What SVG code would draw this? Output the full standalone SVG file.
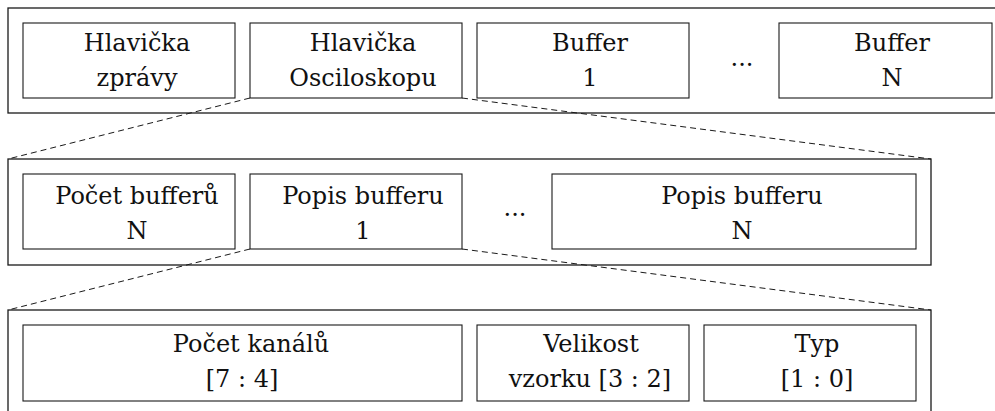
<svg xmlns="http://www.w3.org/2000/svg" width="995" height="411" viewBox="0 0 995 411">
  <style>
    .frame { fill: none; stroke: #1a1a1a; stroke-width: 1.3; }
    .box { fill: #ffffff; stroke: #1a1a1a; stroke-width: 1.1; }
    .lbl { fill: #111111; text-anchor: middle; }
    .zoom { fill: none; stroke: #1a1a1a; stroke-width: 1; stroke-dasharray: 6 4; }
  </style>
  <rect width="995" height="411" fill="#ffffff"/>

  <!-- zoom-out guides between levels -->
  <g id="connectors">
    <line class="zoom" x1="250" y1="98" x2="8" y2="159"/>
    <line class="zoom" x1="462" y1="98" x2="931" y2="159"/>
    <line class="zoom" x1="250" y1="249" x2="8" y2="310"/>
    <line class="zoom" x1="462" y1="249" x2="931" y2="310"/>
  </g>

  <g font-family="'DejaVu Serif', serif" font-size="24">
    <!-- level 1: message -->
    <g id="message">
      <rect class="frame" x="8" y="8" width="1010" height="105"/>
    </g>
    <g id="msg-header">
      <rect class="box" x="23" y="23" width="212" height="75"/>
      <text class="lbl" x="137" y="51">Hlavička</text>
      <text class="lbl" x="137" y="86">zprávy</text>
    </g>
    <g id="scope-header">
      <rect class="box" x="250" y="23" width="212" height="75"/>
      <text class="lbl" x="363" y="51">Hlavička</text>
      <text class="lbl" x="363" y="86">Osciloskopu</text>
    </g>
    <g id="buffer-1">
      <rect class="box" x="477" y="23" width="212" height="75"/>
      <text class="lbl" x="590" y="51">Buffer</text>
      <text class="lbl" x="590" y="86">1</text>
    </g>
    <g id="dots-1">
      <text class="lbl" x="742" y="66">...</text>
    </g>
    <g id="buffer-n">
      <rect class="box" x="779" y="23" width="213" height="75"/>
      <text class="lbl" x="892" y="51">Buffer</text>
      <text class="lbl" x="892" y="86">N</text>
    </g>

    <!-- level 2: oscilloscope header -->
    <g id="scope">
      <rect class="frame" x="8" y="159" width="923" height="106"/>
    </g>
    <g id="buffer-count">
      <rect class="box" x="23" y="174" width="212" height="75"/>
      <text class="lbl" x="137" y="204">Počet bufferů</text>
      <text class="lbl" x="137" y="239">N</text>
    </g>
    <g id="desc-1">
      <rect class="box" x="250" y="174" width="212" height="75"/>
      <text class="lbl" x="363" y="204">Popis bufferu</text>
      <text class="lbl" x="363" y="239">1</text>
    </g>
    <g id="dots-2">
      <text class="lbl" x="515" y="216">...</text>
    </g>
    <g id="desc-n">
      <rect class="box" x="552" y="174" width="364" height="75"/>
      <text class="lbl" x="742" y="204">Popis bufferu</text>
      <text class="lbl" x="742" y="239">N</text>
    </g>

    <!-- level 3: buffer description byte -->
    <g id="descriptor">
      <rect class="frame" x="8" y="310" width="923" height="120"/>
    </g>
    <g id="channels">
      <rect class="box" x="23" y="325" width="439" height="76"/>
      <text class="lbl" x="251" y="352">Počet kanálů</text>
      <text class="lbl" x="242" y="387">[7 : 4]</text>
    </g>
    <g id="sample-size">
      <rect class="box" x="477" y="325" width="212" height="76"/>
      <text class="lbl" x="591" y="352">Velikost</text>
      <text class="lbl" x="590" y="387">vzorku [3 : 2]</text>
    </g>
    <g id="type">
      <rect class="box" x="704" y="325" width="212" height="76"/>
      <text class="lbl" x="817" y="352">Typ</text>
      <text class="lbl" x="817" y="387">[1 : 0]</text>
    </g>
  </g>
</svg>
